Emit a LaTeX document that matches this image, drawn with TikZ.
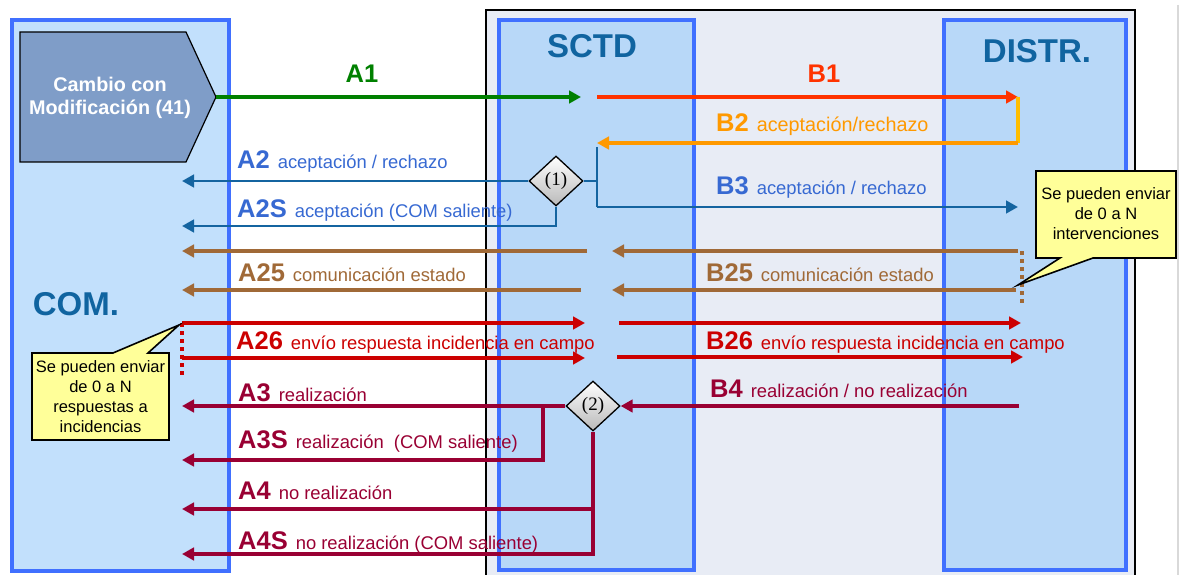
\documentclass[tikz,border=0pt]{standalone}
\usepackage{fontspec}
\setmainfont{Liberation Sans}
\newfontfamily\serifnum{Liberation Serif}
\usetikzlibrary{arrows.meta,shapes.geometric}
\definecolor{cTitle}{RGB}{16,100,160}
\definecolor{cBox}{RGB}{64,112,255}
\definecolor{cCom}{RGB}{194,224,252}
\definecolor{cLane}{RGB}{184,216,248}
\definecolor{cFrame}{RGB}{232,236,245}
\definecolor{cPent}{RGB}{127,157,200}
\definecolor{cBlueL}{RGB}{20,100,160}
\definecolor{cBlueT}{RGB}{55,105,210}
\definecolor{cGreen}{RGB}{0,128,0}
\definecolor{cRedB}{RGB}{255,51,0}
\definecolor{cOrange}{RGB}{255,153,0}
\definecolor{cYellowO}{RGB}{255,190,0}
\definecolor{cBrown}{RGB}{160,105,55}
\definecolor{cRed}{RGB}{204,0,0}
\definecolor{cMaroon}{RGB}{153,0,51}
\definecolor{cNote}{RGB}{255,255,153}
\newcommand{\lblcode}[1]{{\fontsize{25.5}{30}\selectfont\bfseries #1}}
\newcommand{\lbldesc}[1]{{\fontsize{18.4}{22}\selectfont #1}}
\begin{document}
\begin{tikzpicture}[x=1pt,y=-1pt,
  lane/.style={draw=cBox,line width=3.5pt,fill=cLane,inner sep=0pt},
  title/.style={text=cTitle,font=\fontsize{33}{38}\selectfont\bfseries,inner sep=0pt},
  lbl/.style={anchor=base west,inner sep=0pt},
  arr/.style={line width=3.3pt,-{Triangle[length=12pt,width=12.5pt]}},
  ln/.style={line width=3.3pt},
  dia/.style={diamond,draw=black,line width=1.3pt,top color=white,bottom color=gray!55,
    minimum width=54pt,minimum height=50pt,inner sep=0pt,font=\serifnum\fontsize{19}{22}\selectfont},
  note/.style={fill=cNote,draw=black,line width=1.6pt},
  notetext/.style={align=center,font=\fontsize{16.5}{20}\selectfont,inner sep=0pt}
]
\useasboundingbox (0,0) rectangle (1184,575);
\clip (0,0) rectangle (1184,575);
% frames
\draw[gray!30,line width=1.5pt] (1178,5) -- (1178,580);
\draw[fill=cFrame,draw=black,line width=1.5pt] (486,10) rectangle (1135,590);
\node[lane,fill=cCom,minimum width=217pt,minimum height=551pt] (com) at (120.5,295.5) {};
\node[lane,minimum width=195pt,minimum height=550pt] (sctd) at (596.5,295) {};
\node[lane,minimum width=182pt,minimum height=550pt] (distr) at (1035,295) {};
\node[title] (tSCTD) at (592,46) {SCTD};
\node[title] (tDISTR) at (1037,51) {DISTR.};
\node[title] (tCOM) at (76,304) {COM.};
% pentagon
\draw[fill=cPent,draw=black,line width=1.2pt] (20,32) -- (186,32) -- (216,97) -- (186,162) -- (20,162) -- cycle;
\coordinate (tip) at (216,97);
\node[text=white,align=center,font=\fontsize{19.8}{23}\selectfont\bfseries,inner sep=0pt] (cambio) at (110,98) {Cambio con\\Modificación (41)};
% coordinates
\coordinate (a1e) at (581,97);
\coordinate (b1s) at (597,97);
\coordinate (b1e) at (1018,97);
\coordinate (b2c) at (1018,143);
\coordinate (b2e) at (597,143);
\coordinate (b3t) at (597,147);
\coordinate (b3j) at (597,181);
\coordinate (b3c) at (597,207);
\coordinate (b3e) at (1018,207);
\coordinate (a2e) at (182,181);
\coordinate (a2sc) at (556,226);
\coordinate (a2se) at (182,226);
\coordinate (a25s1) at (587,251);
\coordinate (a25e1) at (182,251);
\coordinate (a25s2) at (581,290);
\coordinate (a25e2) at (182,290);
\coordinate (b25s1) at (1018,251);
\coordinate (b25e1) at (612,251);
\coordinate (b25s2) at (1016,290);
\coordinate (b25e2) at (612,290);
\coordinate (b25d1) at (1022,251);
\coordinate (b25d2) at (1022,305);
\coordinate (a26s1) at (182,323);
\coordinate (a26e1) at (585,323);
\coordinate (a26s2) at (182,358);
\coordinate (a26e2) at (585,358);
\coordinate (b26s1) at (619,323);
\coordinate (b26e1) at (1021,323);
\coordinate (b26s2) at (617,357);
\coordinate (b26e2) at (1023,357);
\coordinate (a26d2) at (182,378);
\coordinate (b4s) at (1019,406);
\coordinate (a3e) at (182,406);
\coordinate (a3sj) at (543,406);
\coordinate (a3sc) at (543,460);
\coordinate (a3se) at (182,460);
\coordinate (a4c) at (593,509);
\coordinate (a4e) at (182,509);
\coordinate (a4sc) at (593,554);
\coordinate (a4se) at (182,554);
% diamonds
\node[dia] (d1) at (556,181) {(1)};
\node[dia] (d2) at (593,406) {(2)};
% connectors
\draw[arr,cGreen] (tip) -- (a1e);
\draw[arr,cRedB] (b1s) -- (b1e);
\draw[ln,cYellowO] (b1e) -- (b2c);
\draw[arr,cOrange] (b2c) -- (b2e);
\draw[ln,cBlueL,line width=2.8pt] (b3t) -- (b3c);
\draw[arr,cBlueL,line width=2.8pt] (b3c) -- (b3e);
\draw[ln,cBlueL,line width=2.8pt] (b3j) -- (d1.east);
\draw[arr,cBlueL,line width=2.8pt] (d1.west) -- (a2e);
\draw[arr,cBlueL,line width=2.8pt] (d1.south) -- (a2sc) -- (a2se);
\draw[arr,cBrown] (a25s1) -- (a25e1);
\draw[arr,cBrown] (a25s2) -- (a25e2);
\draw[arr,cBrown] (b25s1) -- (b25e1);
\draw[arr,cBrown] (b25s2) -- (b25e2);
\draw[cBrown,line width=3.3pt,dash pattern=on 4pt off 4pt] (b25d1) -- (b25d2);
\draw[arr,cRed] (a26s1) -- (a26e1);
\draw[arr,cRed] (a26s2) -- (a26e2);
\draw[arr,cRed] (b26s1) -- (b26e1);
\draw[arr,cRed] (b26s2) -- (b26e2);
\draw[cRed,line width=3.3pt,dash pattern=on 4pt off 4pt] (a26s1) -- (a26d2);
\draw[arr,cMaroon,line width=3.8pt] (b4s) -- (d2.east);
\draw[arr,cMaroon,line width=3.8pt] (d2.west) -- (a3e);
\draw[arr,cMaroon,line width=3.8pt] (a3sj) -- (a3sc) -- (a3se);
\draw[arr,cMaroon,line width=3.8pt] (d2.south) -- (a4c) -- (a4e);
\draw[arr,cMaroon,line width=3.8pt] (a4c) -- (a4sc) -- (a4se);
% labels
\node[anchor=base,inner sep=0pt,text=cGreen] (lA1) at (362,83) {\lblcode{A1}};
\node[anchor=base,inner sep=0pt,text=cRedB] (lB1) at (824,83) {\lblcode{B1}};
\node[lbl,text=cOrange] (lB2) at (716,132) {\lblcode{B2}\hspace{8pt}{\fontsize{19.8}{22}\selectfont aceptación/rechazo}};
\node[lbl,text=cBlueT] (lA2) at (237,168) {\lblcode{A2}\hspace{8pt}\lbldesc{aceptación / rechazo}};
\node[lbl,text=cBlueT] (lB3) at (716,194) {\lblcode{B3}\hspace{8pt}\lbldesc{aceptación / rechazo}};
\node[lbl,text=cBlueT] (lA2S) at (237,218) {\lblcode{A2S}\hspace{8pt}\lbldesc{aceptación (COM saliente)}};
\node[lbl,text=cBrown] (lA25) at (238,281) {\lblcode{A25}\hspace{8pt}\lbldesc{comunicación estado}};
\node[lbl,text=cBrown] (lB25) at (706,281) {\lblcode{B25}\hspace{8pt}\lbldesc{comunicación estado}};
\node[lbl,text=cRed] (lA26) at (236,349) {\lblcode{A26}\hspace{8pt}\lbldesc{envío respuesta incidencia en campo}};
\node[lbl,text=cRed] (lB26) at (706,349) {\lblcode{B26}\hspace{8pt}\lbldesc{envío respuesta incidencia en campo}};
\node[lbl,text=cMaroon] (lA3) at (238,401) {\lblcode{A3}\hspace{8pt}\lbldesc{realización}};
\node[lbl,text=cMaroon] (lB4) at (710,397) {\lblcode{B4}\hspace{8pt}\lbldesc{realización / no realización}};
\node[lbl,text=cMaroon] (lA3S) at (238,448) {\lblcode{A3S}\hspace{8pt}\lbldesc{realización\ \ (COM saliente)}};
\node[lbl,text=cMaroon] (lA4) at (238,499) {\lblcode{A4}\hspace{8pt}\lbldesc{no realización}};
\node[lbl,text=cMaroon] (lA4S) at (238,549) {\lblcode{A4S}\hspace{8pt}\lbldesc{no realización (COM saliente)}};
% callouts
\draw[note] (1036,171) -- (1176,171) -- (1176,258) -- (1093,258) -- (1018,285) -- (1060,258) -- (1036,258) -- cycle;
\node[notetext] (n1) at (1106,214) {Se pueden enviar\\de 0 a N\\intervenciones};
\draw[note] (32,353) -- (113,353) -- (179,325) -- (148,353) -- (169,353) -- (169,440) -- (32,440) -- cycle;
\node[notetext] (n2) at (100.5,397) {Se pueden enviar\\de 0 a N\\respuestas a\\incidencias};
\end{tikzpicture}
\end{document}
